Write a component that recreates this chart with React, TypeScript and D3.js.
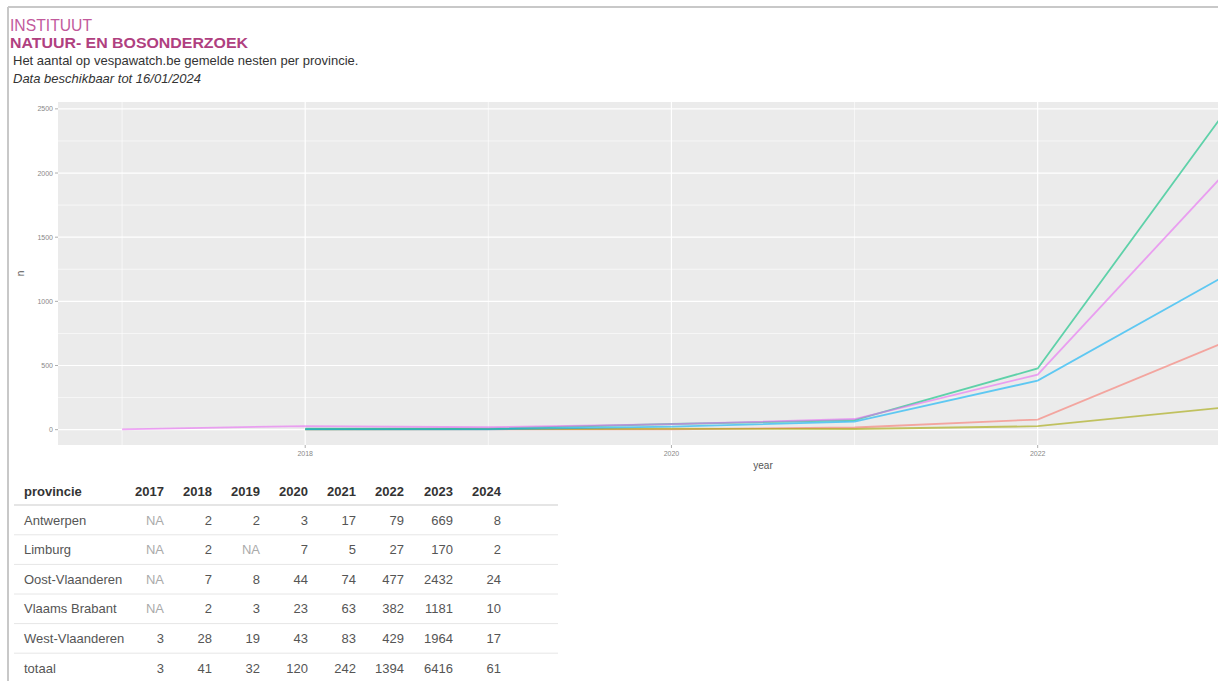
import React from "react";
import * as d3 from "d3";

const years = [2017, 2018, 2019, 2020, 2021, 2022, 2023, 2024];
const provinces = ["Antwerpen", "Limburg", "Oost-Vlaanderen", "Vlaams Brabant", "West-Vlaanderen"];
const antwerpen = [null, 2, 2, 3, 17, 79, 669, 8];
const limburg = [null, 2, null, 7, 5, 27, 170, 2];
const oostVlaanderen = [null, 7, 8, 44, 74, 477, 2432, 24];
const vlaamsBrabant = [null, 2, 3, 23, 63, 382, 1181, 10];
const westVlaanderen = [3, 28, 19, 43, 83, 429, 1964, 17];
const totaal = [3, 41, 32, 120, 242, 1394, 6416, 61];
const seriesColors = ["#F8766D", "#A3A500", "#00BF7D", "#00B0F6", "#E76BF3"];
const yTicks = [0, 500, 1000, 1500, 2000, 2500];
const xTicks = [2018, 2020, 2022, 2024];
const xMinor = [2017, 2019, 2021, 2023];
const yMinor = [250, 750, 1250, 1750, 2250];

const seriesValues: (number | null)[][] = [antwerpen, limburg, oostVlaanderen, vlaamsBrabant, westVlaanderen];

export default function App() {
  const W = 1218, H = 681;
  const pL = 58, pR = 1468, pT = 102, pB = 445;
  const allVals = seriesValues.flat().filter((v) => v != null) as number[];
  const yMin = d3.min(allVals)!, yMax = d3.max(allVals)!;
  const yExp = (yMax - yMin) * 0.05;
  const xExp = (d3.max(years)! - d3.min(years)!) * 0.05;
  const x = d3.scaleLinear().domain([d3.min(years)! - xExp, d3.max(years)! + xExp]).range([pL, pR]);
  const y = d3.scaleLinear().domain([yMin - yExp, yMax + yExp]).range([pB, pT]);
  const line = d3
    .line<{ yr: number; v: number }>()
    .x((d) => x(d.yr))
    .y((d) => y(d.v));

  const font = "'Liberation Sans', Arial, sans-serif";
  const tableCols = [164, 212, 260, 308, 356, 404, 453, 501];
  const rows = [...provinces.map((p, i) => ({ name: p, vals: seriesValues[i] })), { name: "totaal", vals: totaal }];
  const rowY0 = 520;
  const rowH = 29.6;

  return (
    <div style={{ position: "fixed", left: 0, top: 0, width: W, height: H, overflow: "hidden", background: "#fff" }}>
      <svg width={W} height={H} style={{ display: "block", fontFamily: font }}>
        {/* frame */}
        <line x1={8} y1={7} x2={W} y2={7} stroke="#c8c8c8" strokeWidth={2} />
        <line x1={8} y1={7} x2={8} y2={H} stroke="#c8c8c8" strokeWidth={2} />
        {/* header */}
        <text x={10} y={31} fontSize={16} fill="#c25a9c" fontWeight={300} textLength={82} lengthAdjust="spacingAndGlyphs">INSTITUUT</text>
        <text x={10} y={48} fontSize={14.5} fill="#b0407f" fontWeight="bold" textLength={238} lengthAdjust="spacingAndGlyphs">NATUUR- EN BOSONDERZOEK</text>
        <text x={13} y={65} fontSize={13} fill="#333">Het aantal op vespawatch.be gemelde nesten per provincie.</text>
        <text x={13} y={83} fontSize={13} fill="#333" fontStyle="italic">Data beschikbaar tot 16/01/2024</text>

        {/* panel */}
        <rect x={pL} y={pT} width={pR - pL} height={pB - pT} fill="#ebebeb" />
        {yMinor.map((t) => (
          <line key={"ym" + t} x1={pL} x2={pR} y1={y(t)} y2={y(t)} stroke="#fff" strokeWidth={0.6} />
        ))}
        {xMinor.map((t) => (
          <line key={"xm" + t} x1={x(t)} x2={x(t)} y1={pT} y2={pB} stroke="#fff" strokeWidth={0.6} />
        ))}
        {yTicks.map((t) => (
          <line key={"yM" + t} x1={pL} x2={pR} y1={y(t)} y2={y(t)} stroke="#fff" strokeWidth={1.2} />
        ))}
        {xTicks.map((t) => (
          <line key={"xM" + t} x1={x(t)} x2={x(t)} y1={pT} y2={pB} stroke="#fff" strokeWidth={1.2} />
        ))}
        {seriesValues.map((vals, i) => {
          const pts = years
            .map((yr, j) => ({ yr, v: vals[j] }))
            .filter((d) => d.v != null) as { yr: number; v: number }[];
          return (
            <path key={provinces[i]} d={line(pts)!} fill="none" stroke={seriesColors[i]} strokeOpacity={0.6} strokeWidth={1.8} />
          );
        })}
        {/* axes */}
        {yTicks.map((t) => (
          <g key={"yt" + t}>
            <line x1={pL - 3} x2={pL} y1={y(t)} y2={y(t)} stroke="#999" strokeWidth={0.8} />
            <text x={pL - 5} y={y(t) + 2.5} fontSize={7} fill="#888" textAnchor="end">{t}</text>
          </g>
        ))}
        {xTicks.filter((t) => x(t) < W - 15).map((t) => (
          <g key={"xt" + t}>
            <line x1={x(t)} x2={x(t)} y1={pB} y2={pB + 3} stroke="#999" strokeWidth={0.8} />
            <text x={x(t)} y={pB + 11} fontSize={7} fill="#888" textAnchor="middle">{t}</text>
          </g>
        ))}
        <text x={(pL + pR) / 2} y={469} fontSize={10} fill="#555" textAnchor="middle">year</text>
        <text transform={`translate(24, ${(pT + pB) / 2}) rotate(-90)`} fontSize={10} fill="#555" textAnchor="middle">n</text>

        {/* table */}
        <text x={24} y={496} fontSize={13} fontWeight="bold" fill="#333">provincie</text>
        {years.map((yr, j) => (
          <text key={"h" + yr} x={tableCols[j]} y={496} fontSize={13} fontWeight="bold" fill="#333" textAnchor="end">{yr}</text>
        ))}
        <line x1={14} x2={558} y1={505} y2={505} stroke="#ddd" strokeWidth={1.5} />
        {rows.map((r, i) => {
          const cy = rowY0 + i * rowH;
          return (
            <g key={r.name}>
              <text x={24} y={cy + 4.5} fontSize={13} fill="#555">{r.name}</text>
              {r.vals.map((v, j) => (
                <text key={j} x={tableCols[j]} y={cy + 4.5} fontSize={13} fill={v == null ? "#aaa" : "#555"} textAnchor="end">
                  {v == null ? "NA" : v}
                </text>
              ))}
              {i < rows.length - 1 && (
                <line x1={14} x2={558} y1={cy + rowH / 2} y2={cy + rowH / 2} stroke="#e6e6e6" strokeWidth={1} />
              )}
            </g>
          );
        })}
      </svg>
    </div>
  );
}
